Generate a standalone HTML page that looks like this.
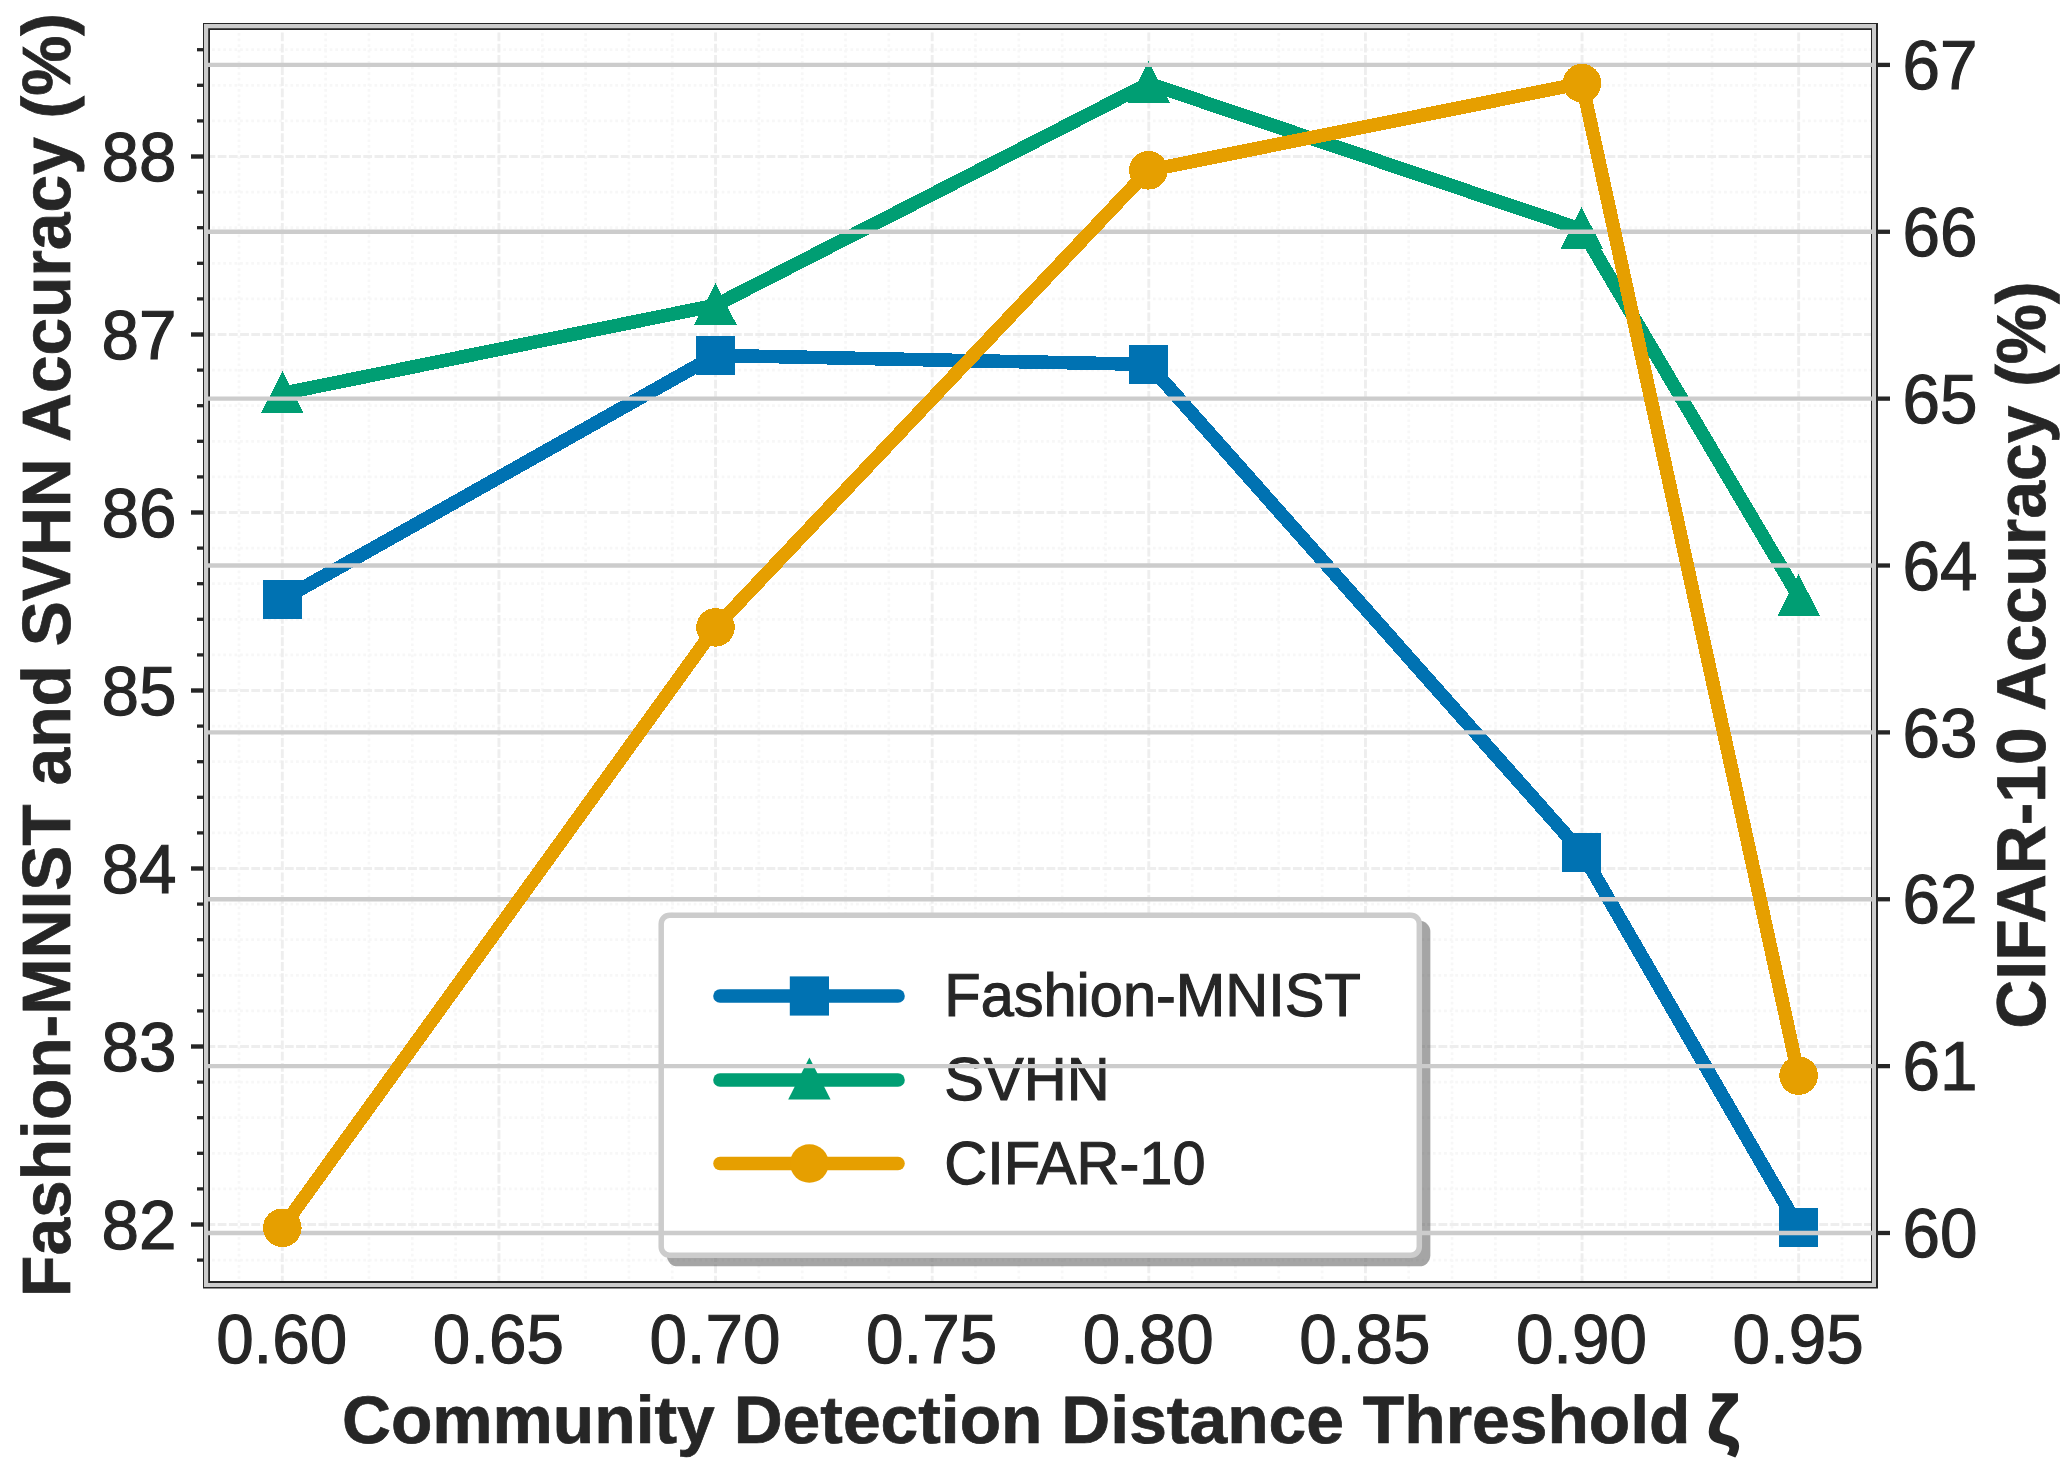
<!DOCTYPE html>
<html lang="en"><head><meta charset="utf-8"><title>Accuracy vs Community Detection Distance Threshold</title>
<style>html,body{margin:0;padding:0;background:#fff}body{width:2070px;height:1470px;overflow:hidden}svg{display:block}</style></head>
<body>
<svg width="2070" height="1470" viewBox="0 0 2070 1470">
<defs><clipPath id="ax"><rect x="206.5" y="26.5" width="1668.0" height="1258.0"/></clipPath></defs>
<rect width="2070" height="1470" fill="#ffffff"/>
<g clip-path="url(#ax)" fill="none">
<g stroke="#f7f7f7" stroke-width="2.7" stroke-dasharray="2.7 2.9">
<path d="M238.99 1284.5V26.5"/>
<path d="M325.64 1284.5V26.5"/>
<path d="M368.97 1284.5V26.5"/>
<path d="M412.29 1284.5V26.5"/>
<path d="M455.62 1284.5V26.5"/>
<path d="M542.27 1284.5V26.5"/>
<path d="M585.59 1284.5V26.5"/>
<path d="M628.92 1284.5V26.5"/>
<path d="M672.24 1284.5V26.5"/>
<path d="M758.89 1284.5V26.5"/>
<path d="M802.21 1284.5V26.5"/>
<path d="M845.54 1284.5V26.5"/>
<path d="M888.86 1284.5V26.5"/>
<path d="M975.51 1284.5V26.5"/>
<path d="M1018.84 1284.5V26.5"/>
<path d="M1062.16 1284.5V26.5"/>
<path d="M1105.49 1284.5V26.5"/>
<path d="M1192.14 1284.5V26.5"/>
<path d="M1235.46 1284.5V26.5"/>
<path d="M1278.79 1284.5V26.5"/>
<path d="M1322.11 1284.5V26.5"/>
<path d="M1408.76 1284.5V26.5"/>
<path d="M1452.08 1284.5V26.5"/>
<path d="M1495.41 1284.5V26.5"/>
<path d="M1538.73 1284.5V26.5"/>
<path d="M1625.38 1284.5V26.5"/>
<path d="M1668.71 1284.5V26.5"/>
<path d="M1712.03 1284.5V26.5"/>
<path d="M1755.36 1284.5V26.5"/>
<path d="M1842.01 1284.5V26.5"/>
<path d="M206.5 1260.10H1874.5"/>
<path d="M206.5 1188.90H1874.5"/>
<path d="M206.5 1153.30H1874.5"/>
<path d="M206.5 1117.70H1874.5"/>
<path d="M206.5 1082.10H1874.5"/>
<path d="M206.5 1010.90H1874.5"/>
<path d="M206.5 975.30H1874.5"/>
<path d="M206.5 939.70H1874.5"/>
<path d="M206.5 904.10H1874.5"/>
<path d="M206.5 832.90H1874.5"/>
<path d="M206.5 797.30H1874.5"/>
<path d="M206.5 761.70H1874.5"/>
<path d="M206.5 726.10H1874.5"/>
<path d="M206.5 654.90H1874.5"/>
<path d="M206.5 619.30H1874.5"/>
<path d="M206.5 583.70H1874.5"/>
<path d="M206.5 548.10H1874.5"/>
<path d="M206.5 476.90H1874.5"/>
<path d="M206.5 441.30H1874.5"/>
<path d="M206.5 405.70H1874.5"/>
<path d="M206.5 370.10H1874.5"/>
<path d="M206.5 298.90H1874.5"/>
<path d="M206.5 263.30H1874.5"/>
<path d="M206.5 227.70H1874.5"/>
<path d="M206.5 192.10H1874.5"/>
<path d="M206.5 120.90H1874.5"/>
<path d="M206.5 85.30H1874.5"/>
<path d="M206.5 49.70H1874.5"/>
</g>
<g stroke="#eeeeee" stroke-width="2.9" stroke-dasharray="8.8 2.4">
<path d="M282.32 1284.5V26.5"/>
<path d="M498.94 1284.5V26.5"/>
<path d="M715.56 1284.5V26.5"/>
<path d="M932.19 1284.5V26.5"/>
<path d="M1148.81 1284.5V26.5"/>
<path d="M1365.44 1284.5V26.5"/>
<path d="M1582.06 1284.5V26.5"/>
<path d="M1798.68 1284.5V26.5"/>
<path d="M206.5 1224.50H1874.5"/>
<path d="M206.5 1046.50H1874.5"/>
<path d="M206.5 868.50H1874.5"/>
<path d="M206.5 690.50H1874.5"/>
<path d="M206.5 512.50H1874.5"/>
<path d="M206.5 334.50H1874.5"/>
<path d="M206.5 156.50H1874.5"/>
</g>
</g>
<g clip-path="url(#ax)" shape-rendering="crispEdges">
<polyline points="282.40,599.40 715.50,355.40 1148.60,364.40 1581.70,852.40 1798.60,1227.30" fill="none" stroke="#0072b2" stroke-width="13.6" stroke-linejoin="round" stroke-linecap="round"/>
<rect x="262.80" y="579.80" width="39.2" height="39.2" fill="#0072b2"/>
<rect x="695.90" y="335.80" width="39.2" height="39.2" fill="#0072b2"/>
<rect x="1129.00" y="344.80" width="39.2" height="39.2" fill="#0072b2"/>
<rect x="1562.10" y="832.80" width="39.2" height="39.2" fill="#0072b2"/>
<rect x="1779.00" y="1207.70" width="39.2" height="39.2" fill="#0072b2"/>
<polyline points="282.40,393.50 715.50,305.30 1148.60,83.50 1581.70,229.50 1798.60,596.30" fill="none" stroke="#009e73" stroke-width="13.6" stroke-linejoin="round" stroke-linecap="round"/>
<polygon points="282.40,371.10 261.20,413.00 303.60,413.00" fill="#009e73"/>
<polygon points="715.50,282.90 694.30,324.80 736.70,324.80" fill="#009e73"/>
<polygon points="1148.60,61.10 1127.40,103.00 1169.80,103.00" fill="#009e73"/>
<polygon points="1581.70,207.10 1560.50,249.00 1602.90,249.00" fill="#009e73"/>
<polygon points="1798.60,573.90 1777.40,615.80 1819.80,615.80" fill="#009e73"/>
</g>
<path d="M203 23H1878V1288.5H203Z M210 30V1281H1871V30Z" fill="#262626" fill-rule="evenodd"/>
<g stroke="#262626" fill="none">
<path d="M191 1224.50H203.5" stroke-width="4.4"/>
<path d="M191 1046.50H203.5" stroke-width="4.4"/>
<path d="M191 868.50H203.5" stroke-width="4.4"/>
<path d="M191 690.50H203.5" stroke-width="4.4"/>
<path d="M191 512.50H203.5" stroke-width="4.4"/>
<path d="M191 334.50H203.5" stroke-width="4.4"/>
<path d="M191 156.50H203.5" stroke-width="4.4"/>
<path d="M197 1260.10H203.5" stroke-width="3.3"/>
<path d="M197 1188.90H203.5" stroke-width="3.3"/>
<path d="M197 1153.30H203.5" stroke-width="3.3"/>
<path d="M197 1117.70H203.5" stroke-width="3.3"/>
<path d="M197 1082.10H203.5" stroke-width="3.3"/>
<path d="M197 1010.90H203.5" stroke-width="3.3"/>
<path d="M197 975.30H203.5" stroke-width="3.3"/>
<path d="M197 939.70H203.5" stroke-width="3.3"/>
<path d="M197 904.10H203.5" stroke-width="3.3"/>
<path d="M197 832.90H203.5" stroke-width="3.3"/>
<path d="M197 797.30H203.5" stroke-width="3.3"/>
<path d="M197 761.70H203.5" stroke-width="3.3"/>
<path d="M197 726.10H203.5" stroke-width="3.3"/>
<path d="M197 654.90H203.5" stroke-width="3.3"/>
<path d="M197 619.30H203.5" stroke-width="3.3"/>
<path d="M197 583.70H203.5" stroke-width="3.3"/>
<path d="M197 548.10H203.5" stroke-width="3.3"/>
<path d="M197 476.90H203.5" stroke-width="3.3"/>
<path d="M197 441.30H203.5" stroke-width="3.3"/>
<path d="M197 405.70H203.5" stroke-width="3.3"/>
<path d="M197 370.10H203.5" stroke-width="3.3"/>
<path d="M197 298.90H203.5" stroke-width="3.3"/>
<path d="M197 263.30H203.5" stroke-width="3.3"/>
<path d="M197 227.70H203.5" stroke-width="3.3"/>
<path d="M197 192.10H203.5" stroke-width="3.3"/>
<path d="M197 120.90H203.5" stroke-width="3.3"/>
<path d="M197 85.30H203.5" stroke-width="3.3"/>
<path d="M197 49.70H203.5" stroke-width="3.3"/>
</g>
<g font-family="Liberation Sans, Arial, sans-serif" text-rendering="geometricPrecision" font-size="67.4" fill="#262626" stroke="#262626" stroke-width="1.1">
<text transform="translate(176.40 1248.65) scale(1 1.03)" text-anchor="end">82</text>
<text transform="translate(176.40 1070.65) scale(1 1.03)" text-anchor="end">83</text>
<text transform="translate(176.40 892.65) scale(1 1.03)" text-anchor="end">84</text>
<text transform="translate(176.40 714.65) scale(1 1.03)" text-anchor="end">85</text>
<text transform="translate(176.40 536.65) scale(1 1.03)" text-anchor="end">86</text>
<text transform="translate(176.40 358.65) scale(1 1.03)" text-anchor="end">87</text>
<text transform="translate(176.40 180.65) scale(1 1.03)" text-anchor="end">88</text>
<text transform="translate(281.72 1363.15) scale(1 1.03)" text-anchor="middle">0.60</text>
<text transform="translate(498.34 1363.15) scale(1 1.03)" text-anchor="middle">0.65</text>
<text transform="translate(714.96 1363.15) scale(1 1.03)" text-anchor="middle">0.70</text>
<text transform="translate(931.59 1363.15) scale(1 1.03)" text-anchor="middle">0.75</text>
<text transform="translate(1148.21 1363.15) scale(1 1.03)" text-anchor="middle">0.80</text>
<text transform="translate(1364.84 1363.15) scale(1 1.03)" text-anchor="middle">0.85</text>
<text transform="translate(1581.46 1363.15) scale(1 1.03)" text-anchor="middle">0.90</text>
<text transform="translate(1798.08 1363.15) scale(1 1.03)" text-anchor="middle">0.95</text>
</g>
<g font-family="Liberation Sans, Arial, sans-serif" text-rendering="geometricPrecision" font-size="67.8" font-weight="bold" fill="#262626" stroke="#262626" stroke-width="0.7" text-anchor="middle">
<text transform="translate(1040.5 1443.3) scale(1 0.99)">Community Detection Distance Threshold <tspan dx="-1.5" stroke-width="2.4">ζ</tspan></text>
<text transform="translate(70 655) rotate(-90) scale(1 1.01)" font-size="67.7">Fashion-MNIST and SVHN Accuracy (%)</text>
</g>
<rect x="666.75" y="920.75" width="763.5999999999999" height="345.5999999999999" rx="11" fill="#4c4c4c" fill-opacity="0.5"/>
<rect x="661.2" y="915.2" width="758.0999999999999" height="340.0999999999999" rx="8.5" fill="#ffffff" stroke="#cccccc" stroke-width="5.5"/>
<g stroke-width="13.6" stroke-linecap="round" fill="none">
<path d="M720.0 996.0H898.0" stroke="#0072b2"/>
<path d="M720.0 1080.0H898.0" stroke="#009e73"/>
<path d="M720.0 1163.5H898.0" stroke="#e69f00"/>
</g>
<rect x="789.80" y="976.40" width="39.2" height="39.2" fill="#0072b2"/>
<polygon points="809.40,1057.60 788.20,1099.50 830.60,1099.50" fill="#009e73"/>
<circle cx="809.4" cy="1163.5" r="19.3" fill="#e69f00"/>
<g font-family="Liberation Sans, Arial, sans-serif" text-rendering="geometricPrecision" font-size="59.5" fill="#262626" stroke="#262626" stroke-width="1.1">
<text transform="translate(944.30 1016.15) scale(1 1.02)" text-anchor="start">Fashion-MNIST</text>
<text transform="translate(944.30 1100.15) scale(1 1.02)" text-anchor="start">SVHN</text>
<text transform="translate(944.30 1184.15) scale(1 1.02)" text-anchor="start">CIFAR-10</text>
</g>
<g clip-path="url(#ax)">
<g stroke="#cccccc" stroke-width="4.3" fill="none">
<path d="M206.5 1232.99H1874.5"/>
<path d="M206.5 1066.12H1874.5"/>
<path d="M206.5 899.25H1874.5"/>
<path d="M206.5 732.38H1874.5"/>
<path d="M206.5 565.51H1874.5"/>
<path d="M206.5 398.64H1874.5"/>
<path d="M206.5 231.77H1874.5"/>
<path d="M206.5 64.90H1874.5"/>
</g>
<g shape-rendering="crispEdges">
<polyline points="282.30,1227.80 715.50,627.40 1148.40,170.30 1582.00,83.20 1798.60,1075.60" fill="none" stroke="#e69f00" stroke-width="13.6" stroke-linejoin="round" stroke-linecap="round"/>
<circle cx="282.3" cy="1227.8" r="19.3" fill="#e69f00"/>
<circle cx="715.5" cy="627.4" r="19.3" fill="#e69f00"/>
<circle cx="1148.4" cy="170.3" r="19.3" fill="#e69f00"/>
<circle cx="1582.0" cy="83.2" r="19.3" fill="#e69f00"/>
<circle cx="1798.6" cy="1075.6" r="19.3" fill="#e69f00"/>
</g>
</g>
<path d="M204 24H1876V1287H204Z M208.2 28.2V1283H1872V28.2Z" fill="#cccccc" fill-rule="evenodd"/>
<g stroke="#262626" stroke-width="4.3" fill="none">
<path d="M1877.5 1232.99H1890"/>
<path d="M1877.5 1066.12H1890"/>
<path d="M1877.5 899.25H1890"/>
<path d="M1877.5 732.38H1890"/>
<path d="M1877.5 565.51H1890"/>
<path d="M1877.5 398.64H1890"/>
<path d="M1877.5 231.77H1890"/>
<path d="M1877.5 64.90H1890"/>
</g>
<g font-family="Liberation Sans, Arial, sans-serif" text-rendering="geometricPrecision" font-size="67.4" fill="#262626" stroke="#262626" stroke-width="1.1">
<text transform="translate(1902.60 1257.14) scale(1 1.03)" text-anchor="start">60</text>
<text transform="translate(1902.60 1090.27) scale(1 1.03)" text-anchor="start">61</text>
<text transform="translate(1902.60 923.40) scale(1 1.03)" text-anchor="start">62</text>
<text transform="translate(1902.60 756.53) scale(1 1.03)" text-anchor="start">63</text>
<text transform="translate(1902.60 589.66) scale(1 1.03)" text-anchor="start">64</text>
<text transform="translate(1902.60 422.79) scale(1 1.03)" text-anchor="start">65</text>
<text transform="translate(1902.60 255.92) scale(1 1.03)" text-anchor="start">66</text>
<text transform="translate(1902.60 89.05) scale(1 1.03)" text-anchor="start">67</text>
</g>
<g font-family="Liberation Sans, Arial, sans-serif" text-rendering="geometricPrecision" font-size="67.8" font-weight="bold" fill="#262626" stroke="#262626" stroke-width="0.7" text-anchor="middle">
<text transform="translate(2045 655) rotate(-90) scale(1 1.02)">CIFAR-10 Accuracy (%)</text>
</g>
</svg>
</body></html>
